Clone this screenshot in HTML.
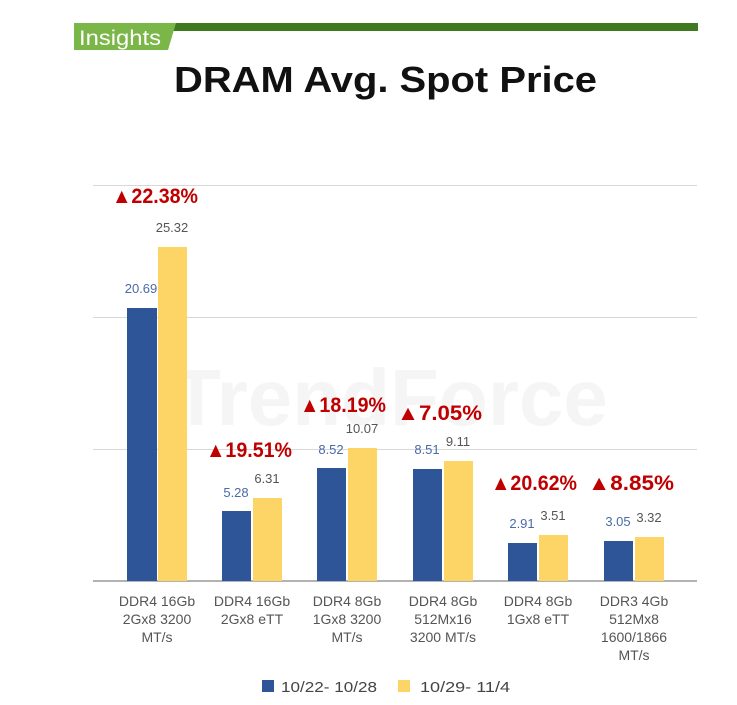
<!DOCTYPE html>
<html><head><meta charset="utf-8"><style>
body{margin:0;background:#fff;}
svg{display:block;font-family:"Liberation Sans",sans-serif;}
</style></head><body>
<svg width="737" height="705" viewBox="0 0 737 705">
<rect x="170" y="23" width="528" height="8" fill="#3f7a22"/>
<polygon points="74,23 176,23 168,50 74,50" fill="#7ab648"/>
<text x="79" y="45" font-size="21" fill="#fff" textLength="82" lengthAdjust="spacingAndGlyphs">Insights</text>
<text x="174" y="92" font-size="36" font-weight="bold" fill="#111" textLength="423" lengthAdjust="spacingAndGlyphs">DRAM Avg. Spot Price</text>
<g stroke="#d8d8d8" stroke-width="1">
<line x1="93" y1="185.5" x2="697" y2="185.5"/>
<line x1="93" y1="317.5" x2="697" y2="317.5"/>
<line x1="93" y1="449.5" x2="697" y2="449.5"/>
</g>
<text x="390" y="425" font-size="80" font-weight="bold" fill="#f5f5f5" text-anchor="middle">TrendForce</text>
<line x1="93" y1="581" x2="697" y2="581" stroke="#999" stroke-width="1.5"/>
<g fill="#2e5597">
<rect x="127" y="308" width="30" height="273"/>
<rect x="222" y="511" width="29" height="70"/>
<rect x="317" y="468" width="29" height="113"/>
<rect x="413" y="469" width="29" height="112"/>
<rect x="508" y="543" width="29" height="38"/>
<rect x="604" y="541" width="29" height="40"/>
</g>
<g fill="#fdd567">
<rect x="158" y="247" width="29" height="334"/>
<rect x="253" y="498" width="29" height="83"/>
<rect x="348" y="448" width="29" height="133"/>
<rect x="444" y="461" width="29" height="120"/>
<rect x="539" y="535" width="29" height="46"/>
<rect x="635" y="537" width="29" height="44"/>
</g>
<g font-size="13" text-anchor="middle" fill="#4a6aa8">
<text x="141" y="293">20.69</text>
<text x="236" y="497">5.28</text>
<text x="331" y="454">8.52</text>
<text x="427" y="454">8.51</text>
<text x="522" y="528">2.91</text>
<text x="618" y="526">3.05</text>
</g>
<g font-size="13" text-anchor="middle" fill="#555">
<text x="172" y="232">25.32</text>
<text x="267" y="483">6.31</text>
<text x="362" y="433">10.07</text>
<text x="458" y="446">9.11</text>
<text x="553" y="520">3.51</text>
<text x="649" y="522">3.32</text>
</g>
<g font-size="21" font-weight="bold" fill="#c00000">
<text x="112" y="203" textLength="86" lengthAdjust="spacingAndGlyphs">▲22.38%</text>
<text x="206" y="457" textLength="86" lengthAdjust="spacingAndGlyphs">▲19.51%</text>
<text x="300" y="412" textLength="86" lengthAdjust="spacingAndGlyphs">▲18.19%</text>
<text x="397" y="420" textLength="85" lengthAdjust="spacingAndGlyphs">▲7.05%</text>
<text x="491" y="490" textLength="86" lengthAdjust="spacingAndGlyphs">▲20.62%</text>
<text x="588" y="490" textLength="86" lengthAdjust="spacingAndGlyphs">▲8.85%</text>
</g>
<g font-size="14" text-anchor="middle" fill="#555">
<text x="157" y="606">DDR4 16Gb</text><text x="157" y="624">2Gx8 3200</text><text x="157" y="642">MT/s</text>
<text x="252" y="606">DDR4 16Gb</text><text x="252" y="624">2Gx8 eTT</text>
<text x="347" y="606">DDR4 8Gb</text><text x="347" y="624">1Gx8 3200</text><text x="347" y="642">MT/s</text>
<text x="443" y="606">DDR4 8Gb</text><text x="443" y="624">512Mx16</text><text x="443" y="642">3200 MT/s</text>
<text x="538" y="606">DDR4 8Gb</text><text x="538" y="624">1Gx8 eTT</text>
<text x="634" y="606">DDR3 4Gb</text><text x="634" y="624">512Mx8</text><text x="634" y="642">1600/1866</text><text x="634" y="660">MT/s</text>
</g>
<rect x="262" y="680" width="12" height="12" fill="#2e5597"/>
<text x="281" y="692" font-size="15" fill="#444" textLength="96" lengthAdjust="spacingAndGlyphs">10/22- 10/28</text>
<rect x="398" y="680" width="12" height="12" fill="#fdd567"/>
<text x="420" y="692" font-size="15" fill="#444" textLength="90" lengthAdjust="spacingAndGlyphs">10/29- 11/4</text>
</svg>
</body></html>
